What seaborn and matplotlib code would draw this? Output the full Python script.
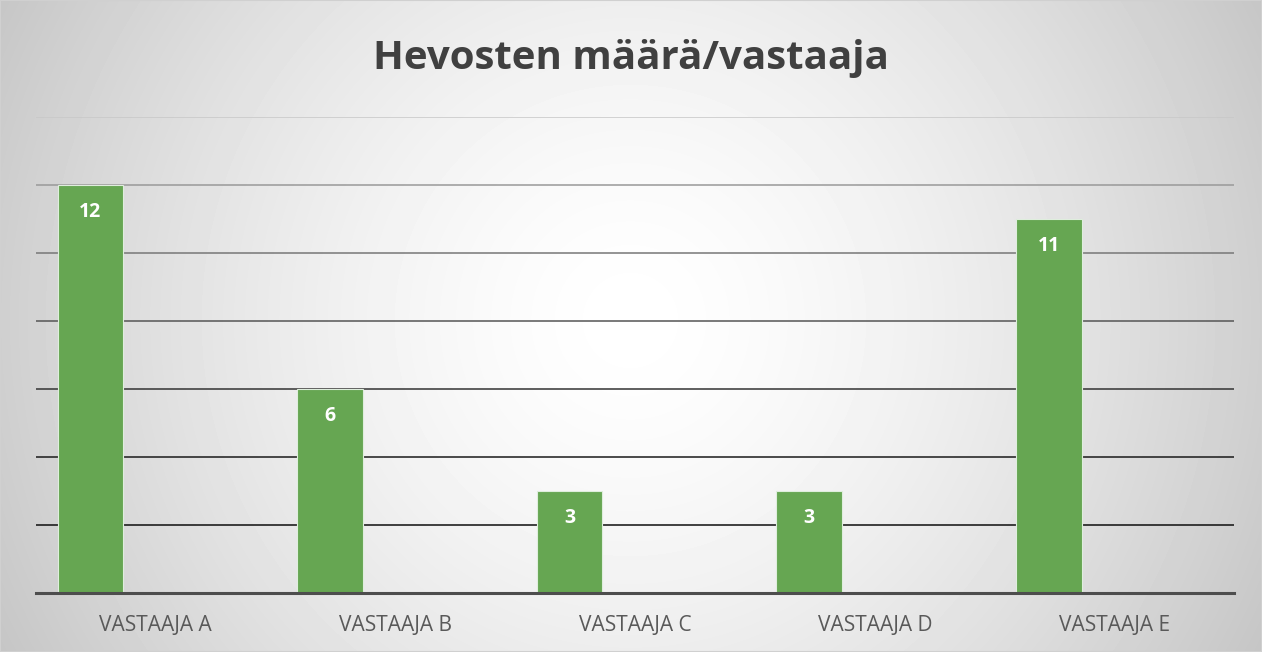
import numpy as np
import pandas as pd
import matplotlib
matplotlib.use('Agg')
import matplotlib.pyplot as plt
import seaborn as sns

# data
vastaajat = ['VASTAAJA A', 'VASTAAJA B', 'VASTAAJA C', 'VASTAAJA D', 'VASTAAJA E']
hevoset = [12, 6, 3, 3, 11]
sarjat = ['Sarja1', 'Sarja2', 'Sarja3']   # only the first series has data

df = pd.DataFrame({'Vastaaja': vastaajat, 'Hevoset': hevoset, 'Sarja': sarjat[0]})

sns.set_style('white')
plt.rcParams['font.family'] = ['Open Sans', 'DejaVu Sans']

fig = plt.figure(figsize=(12.62, 6.52), dpi=100)

# radial grey-to-white background like the Excel chart area
bg = fig.add_axes([0, 0, 1, 1], zorder=-10)
yy, xx = np.mgrid[0:652, 0:1262]
r = np.sqrt((xx - 630) ** 2 + (yy - 320) ** 2) / 700
shade = 1 - 0.22 * np.clip(r, 0, 1.1) ** 1.5
bg.imshow(shade, cmap='gray', vmin=0, vmax=1, aspect='auto', interpolation='bilinear')
bg.set_axis_off()
fig.patches.append(plt.Rectangle((0, 0), 1, 1, transform=fig.transFigure,
                                 fill=False, edgecolor='#d0d0d0', linewidth=1.5))

ax = fig.add_axes([0.0285, 0.0905, 0.9495, 0.7301])
ax.set_facecolor('none')

# gridlines fade from black at bottom to light grey at top
grid_cols = {2: '#0e0e0e', 4: '#1a1a1a', 6: '#333333', 8: '#555555',
             10: '#777777', 12: '#999999', 14: '#c8c8c8'}
for yv, c in grid_cols.items():
    ax.axhline(yv, color=c, linewidth=1.1, zorder=0)

sns.barplot(data=df, x='Vastaaja', y='Hevoset', hue='Sarja', hue_order=sarjat,
            palette=['#66a652', '#4472c4', '#a5a5a5'], width=0.82, dodge=True,
            saturation=1, edgecolor='#dfeedd', linewidth=0.8, legend=False,
            ax=ax, zorder=2)

# value labels inside the top of each bar
bars = [p for p in ax.patches if p.get_height() > 0]
for p in bars:
    ax.annotate(f'{p.get_height():.0f}', (p.get_x() + p.get_width() / 2, p.get_height()),
                xytext=(0, -27), textcoords='offset points', ha='center', va='bottom',
                color='white', fontweight='bold', fontsize=14, zorder=4)

ax.set_ylim(0, 14)
ax.set_xlim(-0.5, 4.5)
ax.set_yticks([])
ax.set_xlabel('')
ax.set_ylabel('')
ax.tick_params(axis='x', length=0, pad=16, labelsize=15, labelcolor='#595959')
for s in ['top', 'left', 'right']:
    ax.spines[s].set_visible(False)
ax.spines['bottom'].set_color('#4d4d4d')
ax.spines['bottom'].set_linewidth(2.2)
ax.spines['bottom'].set_zorder(3)

fig.text(0.5, 0.911, 'Hevosten määrä/vastaaja', ha='center', va='center',
         fontsize=29, fontweight='bold', color='#404040')

fig.savefig('out.png', dpi=100)
